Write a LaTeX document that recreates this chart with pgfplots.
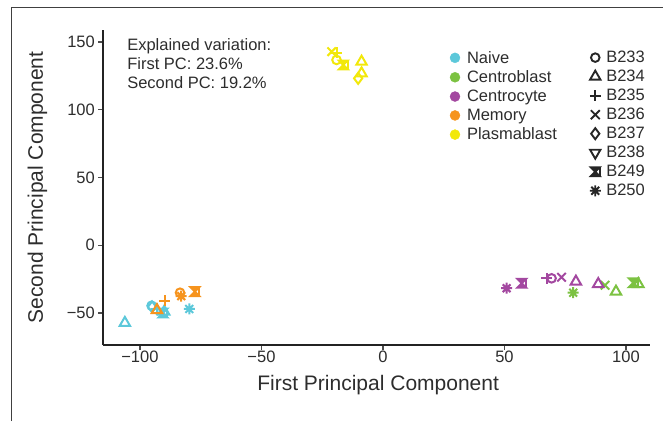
\documentclass[border=0pt]{standalone}
\usepackage{fontspec}
\setmainfont{Liberation Sans}
\usepackage{pgfplots}
\usepackage{pgfplotstable}
\pgfplotsset{compat=1.18}

\definecolor{cnaive}{RGB}{92,200,218}
\definecolor{ccb}{RGB}{124,194,66}
\definecolor{ccc}{RGB}{163,72,160}
\definecolor{cmem}{RGB}{246,148,30}
\definecolor{cpb}{RGB}{242,232,10}
\definecolor{axgray}{RGB}{35,35,35}
\definecolor{txtgray}{RGB}{45,45,45}

\pgfdeclareplotmark{hgbox}{%
  \pgfpathmoveto{\pgfqpoint{-\pgfplotmarksize}{\pgfplotmarksize}}%
  \pgfpathlineto{\pgfqpoint{\pgfplotmarksize}{\pgfplotmarksize}}%
  \pgfpathlineto{\pgfqpoint{-\pgfplotmarksize}{-\pgfplotmarksize}}%
  \pgfpathlineto{\pgfqpoint{\pgfplotmarksize}{-\pgfplotmarksize}}%
  \pgfpathclose
  \pgfusepathqfillstroke
  \pgfpathmoveto{\pgfqpoint{\pgfplotmarksize}{-\pgfplotmarksize}}%
  \pgfpathlineto{\pgfqpoint{\pgfplotmarksize}{\pgfplotmarksize}}%
  \pgfusepathqstroke
}
\pgfdeclareplotmark{ast8}{%
  \pgfpathmoveto{\pgfqpoint{-\pgfplotmarksize}{0pt}}\pgfpathlineto{\pgfqpoint{\pgfplotmarksize}{0pt}}%
  \pgfpathmoveto{\pgfqpoint{0pt}{-\pgfplotmarksize}}\pgfpathlineto{\pgfqpoint{0pt}{\pgfplotmarksize}}%
  \pgfpathmoveto{\pgfqpoint{-0.7071\pgfplotmarksize}{-0.7071\pgfplotmarksize}}\pgfpathlineto{\pgfqpoint{0.7071\pgfplotmarksize}{0.7071\pgfplotmarksize}}%
  \pgfpathmoveto{\pgfqpoint{-0.7071\pgfplotmarksize}{0.7071\pgfplotmarksize}}\pgfpathlineto{\pgfqpoint{0.7071\pgfplotmarksize}{-0.7071\pgfplotmarksize}}%
  \pgfusepathqstroke
}

\tikzset{legfont/.style={font=\fontsize{16.5}{19}\selectfont}}
\pgfplotsset{
  donorstyle/.style={scatter, only marks, scatter src=explicit symbolic, line width=2pt, forget plot,
    scatter/classes={
      B233={mark=o, mark size=4.3pt},
      B234={mark=triangle, mark size=6pt},
      B235={mark=+, mark size=5.5pt},
      B236={mark=x, mark size=6pt},
      B237={mark=diamond, mark size=5.5pt},
      B238={mark=triangle, mark size=6pt, every mark/.append style={rotate=180}},
      B249={mark=hgbox, mark size=4.4pt},
      B250={mark=ast8, mark size=5.5pt}}},
  donorleg/.style={only marks, line width=1.9pt, black!85}
}

\pgfplotstableread{
x y d
-95.2 -44.6 B233
-106.2 -57.3 B234
-93.0 -47.0 B235
-91.5 -48.5 B236
-95.0 -45.5 B237
-90.0 -49.0 B238
-90.5 -50.0 B249
-79.7 -47.0 B250
}\naive

\pgfplotstableread{
x y d
-83.5 -35.0 B233
-89.7 -40.9 B235
-93.0 -47.8 B238
-77.4 -34.2 B249
-83.0 -37.5 B250
}\memory

\pgfplotstableread{
x y d
-21.1 142.9 B236
-19.1 142.1 B235
-19.1 136.8 B233
-16.3 133.1 B249
-8.8 135.5 B234
-8.8 126.9 B238
-10.2 123.2 B237
}\plasma

\pgfplotstableread{
x y d
50.9 -31.7 B250
57.1 -28.0 B249
67.4 -24.4 B235
69.4 -24.4 B233
73.5 -23.6 B236
79.4 -26.8 B234
88.6 -28.6 B238
}\ccyte

\pgfplotstableread{
x y d
78.3 -35.0 B250
91.4 -29.5 B236
95.9 -34.2 B234
103.0 -27.6 B249
105.1 -28.6 B238
}\cblast

\begin{document}
\begin{tikzpicture}
\path[use as bounding box] (0,0) rectangle (663pt,421pt);
\draw[line width=1.6pt, black!75] (11.5pt,0pt) -- (11.5pt,413.5pt) -- (663pt,413.5pt);
\begin{axis}[
  at={(103pt,76pt)}, anchor=south west,
  scale only axis, width=547pt, height=315pt,
  xmin=-115.2, xmax=109.9, ymin=-73.6, ymax=158.9,
  axis x line*=bottom, axis y line*=left,
  axis line style={line width=2pt, axgray},
  tick align=outside, major tick length=5pt,
  major tick style={line width=1.4pt, black!70},
  xtick={-100,-50,0,50,100}, xticklabels={−100,−50,0,50,100},
  ytick={-50,0,50,100,150}, yticklabels={−50,0,50,100,150},
  tick label style={font=\fontsize{16.5}{18}\selectfont, text=txtgray},
  x tick label style={inner sep=1pt},
  y tick label style={inner sep=3pt},
  xlabel={First Principal Component},
  ylabel={Second Principal Component},
  label style={font=\fontsize{21}{24}\selectfont, text=txtgray, inner sep=0pt},
  xlabel style={at={(axis description cs:0.503,-0.146)}, anchor=base},
  ylabel style={at={(axis description cs:-0.1097,0.5)}, anchor=base},
  clip=false,
  legend cell align=left,
  legend style={at={(0.634,0.940)}, anchor=north west, draw=none, fill=none,
    legfont, inner sep=0pt, row sep=2pt, column sep=5pt, text=txtgray},
]
\addlegendimage{only marks, mark=*, mark size=5pt, cnaive}
\addlegendentry{Naive}
\addlegendimage{only marks, mark=*, mark size=5pt, ccb}
\addlegendentry{Centroblast}
\addlegendimage{only marks, mark=*, mark size=5pt, ccc}
\addlegendentry{Centrocyte}
\addlegendimage{only marks, mark=*, mark size=5pt, cmem}
\addlegendentry{Memory}
\addlegendimage{only marks, mark=*, mark size=5pt, cpb}
\addlegendentry{Plasmablast}

\addplot[donorstyle, color=cnaive] table[x=x, y=y, meta=d] {\naive};
\addplot[donorstyle, color=cmem] table[x=x, y=y, meta=d] {\memory};
\addplot[donorstyle, color=cpb] table[x=x, y=y, meta=d] {\plasma};
\addplot[donorstyle, color=ccb] table[x=x, y=y, meta=d] {\cblast};
\addplot[donorstyle, color=ccc] table[x=x, y=y, meta=d] {\ccyte};

\node[anchor=north west, align=left, inner sep=0pt, legfont, text=txtgray]
  at (rel axis cs:0.044,0.975) {Explained variation:\\First PC: 23.6\%\\Second PC: 19.2\%};
\end{axis}

\begin{axis}[
  at={(103pt,76pt)}, anchor=south west,
  scale only axis, width=547pt, height=315pt,
  xmin=0, xmax=1, ymin=0, ymax=1, hide axis,
  legend cell align=left,
  legend style={at={(0.8895,0.940)}, anchor=north west, draw=none, fill=none,
    legfont, inner sep=0pt, row sep=2pt, column sep=3.5pt, text=txtgray},
]
\addlegendimage{donorleg, mark=o, mark size=4.3pt}
\addlegendentry{B233}
\addlegendimage{donorleg, mark=triangle, mark size=6pt}
\addlegendentry{B234}
\addlegendimage{donorleg, mark=+, mark size=5.5pt}
\addlegendentry{B235}
\addlegendimage{donorleg, mark=x, mark size=6.3pt}
\addlegendentry{B236}
\addlegendimage{donorleg, mark=diamond, mark size=5.5pt}
\addlegendentry{B237}
\addlegendimage{donorleg, mark=triangle, mark size=6pt, every mark/.append style={rotate=180}}
\addlegendentry{B238}
\addlegendimage{donorleg, mark=hgbox, mark size=4.4pt}
\addlegendentry{B249}
\addlegendimage{donorleg, mark=ast8, mark size=5.5pt}
\addlegendentry{B250}
\end{axis}
\end{tikzpicture}
\end{document}
